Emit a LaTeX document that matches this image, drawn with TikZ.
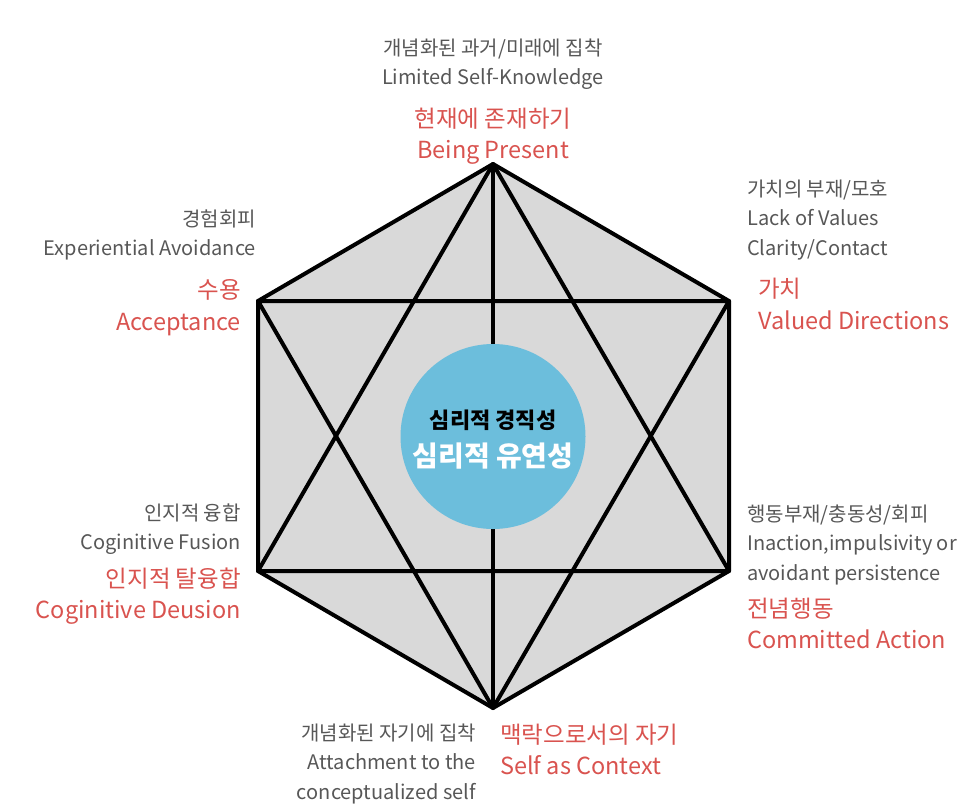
\documentclass[tikz,border=0pt]{standalone}
\usepackage{fontspec}
\setmainfont{Noto Sans CJK KR}
\usetikzlibrary{positioning}
\definecolor{act-red}{HTML}{D9534F}
\definecolor{act-gray}{HTML}{575757}
\definecolor{act-fill}{HTML}{D9D9D9}
\definecolor{act-blue}{HTML}{6CBEDC}

\begin{document}
\begin{tikzpicture}[x=1pt, y=-1pt,
    edge/.style={line width=4pt, black, line cap=round, line join=round},
    barrier/.style={font=\fontsize{20}{29.5}\selectfont, text=act-gray, inner sep=0pt},
    process/.style={font=\fontsize{23.5}{31.5}\selectfont, text=act-red, inner sep=0pt},
]
    \useasboundingbox (0,0) rectangle (966,807);
    % corners of the hexaflex
    \coordinate (top) at (493,164);
    \coordinate (ur)  at (729,301);
    \coordinate (lr)  at (729,571);
    \coordinate (bot) at (493,708);
    \coordinate (ll)  at (258,571);
    \coordinate (ul)  at (258,301);

    \fill[act-fill] (top) -- (ur) -- (lr) -- (bot) -- (ll) -- (ul) -- cycle;
    \draw[edge] (top) -- (bot);
    \draw[edge] (ul) -- (ur);
    \draw[edge] (ll) -- (lr);
    \draw[edge] (top) -- (lr) -- (ll) -- cycle;
    \draw[edge] (bot) -- (ul) -- (ur) -- cycle;
    \draw[edge] (top) -- (ur) -- (lr) -- (bot) -- (ll) -- (ul) -- cycle;

    \node[circle, fill=act-blue, minimum size=185pt, inner sep=0pt] (flex) at (493,436.5) {};
    \node[font=\fontsize{22}{26}\selectfont\bfseries] (rigid) at (493,420) {심리적 경직성};
    \node[font=\fontsize{28}{32}\selectfont\bfseries, text=white] (flexible) at (493,456) {심리적 유연성};

    % top
    \node[barrier, anchor=north, align=center] (b-present) at (493,38.5) {개념화된 과거/미래에 집착\\Limited Self-Knowledge};
    \node[process, anchor=north, align=center] (p-present) at (493,107.5) {현재에 존재하기\\Being Present};
    % upper right
    \node[barrier, anchor=north west, align=left] (b-values) at (747,179.5) {가치의 부재/모호\\Lack of Values\\Clarity/Contact};
    \node[process, anchor=north west, align=left] (p-values) at (758,278) {가치\\Valued Directions};
    % upper left
    \node[barrier, anchor=north east, align=right] (b-accept) at (256,209.5) {경험회피\\Experiential Avoidance};
    \node[process, anchor=north east, align=right] (p-accept) at (241,279.5) {수용\\Acceptance};
    % lower left
    \node[barrier, anchor=north east, align=right] (b-defusion) at (241,503.5) {인지적 융합\\Coginitive Fusion};
    \node[process, anchor=north east, align=right] (p-defusion) at (241,567.5) {인지적 탈융합\\Coginitive Deusion};
    % lower right
    \node[barrier, anchor=north west, align=left] (b-action) at (747,504.5) {행동부재/충동성/회피\\Inaction,impulsivity or\\avoidant persistence};
    \node[process, anchor=north west, align=left] (p-action) at (747,597.5) {전념행동\\Committed Action};
    % bottom
    \node[barrier, anchor=north east, align=right] (b-self) at (476,723.5) {개념화된 자기에 집착\\Attachment to the\\conceptualized self};
    \node[process, anchor=north west, align=left] (p-self) at (500,723.5) {맥락으로서의 자기\\Self as Context};
\end{tikzpicture}
\end{document}
